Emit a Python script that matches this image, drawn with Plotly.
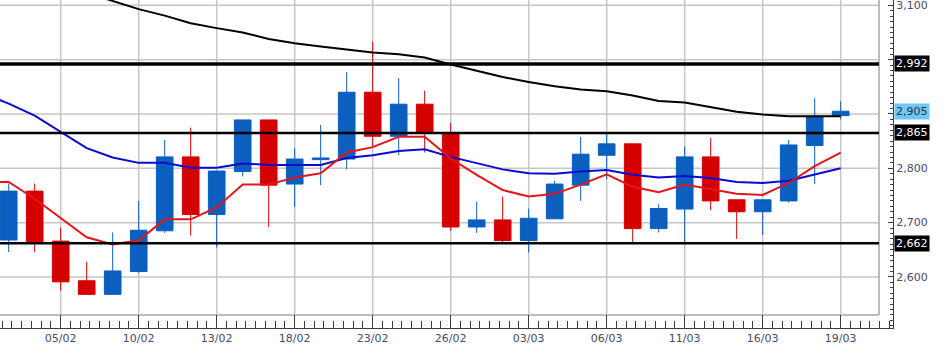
import plotly.graph_objects as go

# ---------------- data ----------------
dates = ["02/02", "03/02", "04/02", "05/02", "06/02", "09/02", "10/02", "11/02", "12/02",
         "13/02", "16/02", "17/02", "18/02", "19/02", "20/02", "23/02", "24/02", "25/02",
         "26/02", "27/02", "02/03", "03/03", "04/03", "05/03", "06/03", "09/03", "10/03",
         "11/03", "12/03", "13/03", "16/03", "17/03", "18/03", "19/03"]
candle_dates = dates[1:]

opens = [2668, 2758, 2666, 2593, 2568, 2610, 2685, 2821, 2715, 2794, 2889, 2771, 2816,
         2817, 2940, 2859, 2918, 2864, 2692, 2705, 2667, 2707, 2769, 2824, 2845, 2689,
         2725, 2821, 2742, 2720, 2740, 2842, 2897]
highs = [2772, 2772, 2691, 2628, 2682, 2740, 2852, 2875, 2796, 2889, 2889, 2837, 2880,
         2977, 3033, 2966, 2943, 2884, 2738, 2748, 2726, 2777, 2858, 2864, 2845, 2734,
         2840, 2856, 2742, 2742, 2852, 2929, 2923]
lows = [2646, 2646, 2575, 2568, 2568, 2607, 2681, 2676, 2654, 2785, 2692, 2729, 2769,
        2798, 2840, 2824, 2829, 2685, 2681, 2664, 2645, 2707, 2740, 2780, 2664, 2682,
        2661, 2723, 2670, 2677, 2737, 2771, 2890]
closes = [2758, 2665, 2591, 2568, 2611, 2686, 2821, 2715, 2795, 2889, 2769, 2817, 2819,
          2940, 2859, 2918, 2867, 2692, 2705, 2667, 2708, 2771, 2826, 2845, 2689, 2726,
          2821, 2740, 2720, 2742, 2843, 2895, 2905]

ma_long = [3183, 3168, 3153, 3138, 3123, 3108, 3093, 3081, 3067, 3058, 3050, 3038, 3030,
           3024, 3018, 3013, 3010, 3004, 2991, 2980, 2968, 2959, 2951, 2945, 2942, 2934,
           2924, 2921, 2912, 2904, 2899, 2896, 2896, 2896]
ma_mid = [2938, 2919, 2897, 2867, 2837, 2820, 2810, 2810, 2801, 2801, 2809, 2806, 2806,
          2806, 2819, 2824, 2832, 2835, 2821, 2810, 2798, 2791, 2790, 2794, 2797, 2788,
          2783, 2786, 2782, 2775, 2773, 2777, 2789, 2800]
ma_short = [2775, 2775, 2744, 2709, 2673, 2660, 2667, 2706, 2706, 2728, 2770, 2770, 2783,
            2791, 2829, 2839, 2858, 2858, 2818, 2788, 2760, 2748, 2753, 2770, 2789, 2766,
            2756, 2770, 2761, 2753, 2751, 2773, 2804, 2829]

levels = [2992, 2865, 2662]
last_price = 2905

x_tick_labels = ["05/02", "10/02", "13/02", "18/02", "23/02", "26/02", "03/03",
                 "06/03", "11/03", "16/03", "19/03"]
y_tick_values = [2600, 2700, 2800, 2900, 3000, 3100]
y_tick_labels = ["2,600", "2,700", "2,800", "", "", "3,100"]

# ---------------- layout geometry ----------------
W, H = 943, 353
FRAME_R, FRAME_B = 879, 315     # grey plot frame (px)
AXIS_R, AXIS_B = 893, 328       # outer axis lines (px)


def px(xp):
    return xp / W


def py(yp):
    return 1 - yp / H


pos = {d: i - 1 for i, d in enumerate(dates)}
x_all = [pos[d] for d in dates]
x_c = [pos[d] for d in candle_dates]
x_tickvals = [pos[d] for d in x_tick_labels]

# data scale derived from reference: candle step 26px, first candle at 8.7px
step, x0px = 26.0, 8.7
x_range = [(0 - x0px) / step, (AXIS_R - x0px) / step]
upp = 1 / 0.5433  # value units per pixel
y_top = 2800 + 168.3 * upp
y_bot = 2800 - (AXIS_B - 168.3) * upp

FONT = "Verdana, DejaVu Sans, sans-serif"
TXT = "#4a4a68"
AX = "#3c3c3c"
BLUE_C = "#0a5fbf"
RED_C = "#d50000"

fig = go.Figure()

fig.add_trace(go.Candlestick(
    x=x_c, open=opens, high=highs, low=lows, close=closes,
    increasing=dict(fillcolor=BLUE_C, line=dict(color=BLUE_C, width=1)),
    decreasing=dict(fillcolor=RED_C, line=dict(color=RED_C, width=1)),
    whiskerwidth=0, hoverinfo="skip", showlegend=False,
))
fig.add_trace(go.Scatter(x=x_all, y=ma_long, mode="lines",
                         line=dict(color="#000000", width=2), hoverinfo="skip"))
fig.add_trace(go.Scatter(x=x_all, y=ma_mid, mode="lines",
                         line=dict(color="#0a0ad2", width=2), hoverinfo="skip"))
fig.add_trace(go.Scatter(x=x_all, y=ma_short, mode="lines",
                         line=dict(color="#e3161b", width=2), hoverinfo="skip"))

shapes = []
GRID = "#c6c6c6"
for v in y_tick_values:
    shapes.append(dict(type="line", xref="paper", yref="y", x0=0, x1=px(FRAME_R),
                       y0=v, y1=v, line=dict(color=GRID, width=1.5), layer="below"))
for xv in x_tickvals:
    shapes.append(dict(type="line", xref="x", yref="paper", x0=xv, x1=xv,
                       y0=py(FRAME_B), y1=1, line=dict(color=GRID, width=1.5), layer="below"))
# grey frame
shapes.append(dict(type="line", xref="paper", yref="paper", x0=px(FRAME_R), x1=px(FRAME_R),
                   y0=py(FRAME_B), y1=1, line=dict(color="#bcbcbc", width=2), layer="below"))
shapes.append(dict(type="line", xref="paper", yref="paper", x0=0, x1=px(FRAME_R),
                   y0=py(FRAME_B), y1=py(FRAME_B), line=dict(color="#bcbcbc", width=2), layer="below"))
# horizontal level lines
level_widths = [3.5, 2.5, 2.5]
for v, w in zip(levels, level_widths):
    shapes.append(dict(type="line", xref="paper", yref="y", x0=0, x1=px(FRAME_R),
                       y0=v, y1=v, line=dict(color="#000000", width=w), layer="above"))

annotations = []
for v in levels:
    annotations.append(dict(xref="paper", yref="y", x=px(AXIS_R + 1), y=v, xanchor="left",
                            yanchor="middle", text=f"{v:,}", showarrow=False,
                            bgcolor="#000000", borderpad=1,
                            font=dict(family=FONT, size=11, color="#ffffff")))
annotations.append(dict(xref="paper", yref="y", x=px(AXIS_R + 1), y=last_price, xanchor="left",
                        yanchor="middle", text=f"{last_price:,}", showarrow=False,
                        bgcolor="#6ec8f4", borderpad=1,
                        font=dict(family=FONT, size=11, color="#2c2c50")))

fig.update_layout(
    width=W, height=H,
    margin=dict(l=0, r=0, t=0, b=0),
    paper_bgcolor="#ffffff", plot_bgcolor="#ffffff",
    showlegend=False,
    boxgap=0.36, boxgroupgap=0,
    font=dict(family=FONT, size=11, color=TXT),
    shapes=shapes, annotations=annotations,
    xaxis=dict(
        domain=[0, px(AXIS_R)], range=x_range, anchor="y",
        tickmode="array", tickvals=x_tickvals, ticktext=x_tick_labels,
        ticks="inside", ticklen=13, tickwidth=1, tickcolor=AX,
        showline=True, linecolor=AX, linewidth=1,
        showgrid=False, zeroline=False,
        minor=dict(tickmode="linear", tick0=x_tickvals[0], dtick=0.375,
                   ticks="inside", ticklen=7, tickwidth=1, tickcolor=AX, showgrid=False),
        rangeslider=dict(visible=False),
        tickfont=dict(family=FONT, size=11, color=TXT),
        fixedrange=True,
    ),
    yaxis=dict(
        domain=[py(AXIS_B), 1], range=[y_bot, y_top], anchor="x", side="right",
        tickmode="array", tickvals=y_tick_values, ticktext=y_tick_labels,
        ticks="inside", ticklen=5, tickwidth=1, tickcolor=AX,
        showline=True, linecolor=AX, linewidth=1,
        showgrid=False, zeroline=False,
        ticklabeloverflow="allow",
        minor=dict(tickmode="linear", tick0=2600, dtick=10,
                   ticks="inside", ticklen=3, tickwidth=1, tickcolor=AX, showgrid=False),
        tickfont=dict(family=FONT, size=11, color=TXT),
        fixedrange=True,
    ),
)

fig.write_html("out.html")
